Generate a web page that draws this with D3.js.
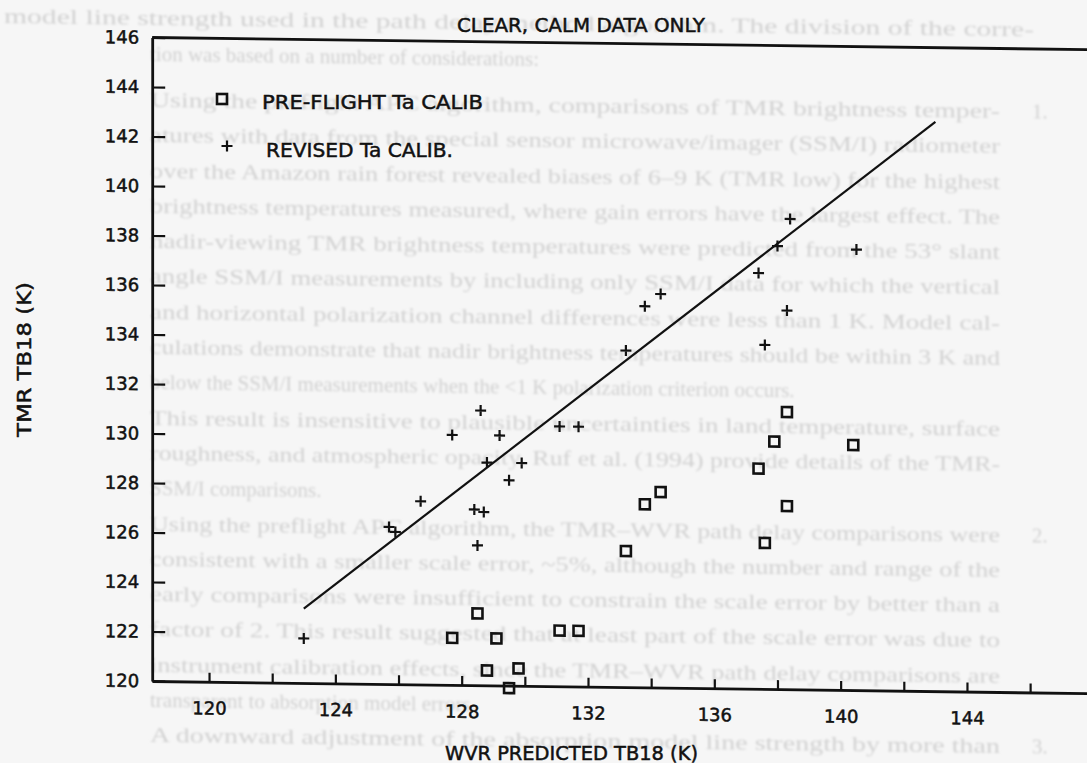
<!DOCTYPE html>
<html>
<head>
<meta charset="utf-8">
<script src="https://cdn.jsdelivr.net/npm/d3@7"></script>
<style>
  html, body { margin: 0; padding: 0; background: #f6f6f6; }
  svg { display: block; }
  .plot text { font-family: "DejaVu Sans", sans-serif; fill: #111; stroke: #111; stroke-width: 0.5; }
</style>
</head>
<body>
<script>
// chart values
const xTicks = [120, 122, 124, 126, 128, 130, 132, 134, 136, 138, 140, 142, 144, 146];
const yTicks = [120, 122, 124, 126, 128, 130, 132, 134, 136, 138, 140, 142, 144, 146];

// PRE-FLIGHT Ta CALIB (squares)
const preX = [128.5, 127.7, 129.1, 128.8, 129.8, 129.5, 131.1, 131.7, 138.3, 137.9, 140.4, 137.4, 134.3, 133.8, 138.3, 133.2, 137.6];
const preY = [122.9, 121.9, 121.9, 120.6, 120.7, 119.9, 122.25, 122.25, 131.2, 130.0, 129.9, 128.9, 127.9, 127.4, 127.4, 125.5, 125.9];

// REVISED Ta CALIB. (plus signs)
const revX = [123.0, 125.7, 125.9, 126.7, 127.7, 128.6, 128.4, 128.7, 128.5, 128.8, 129.2, 129.5, 129.9, 131.1, 131.7, 133.2, 133.8, 134.3, 137.4, 138.0, 138.4, 140.5, 138.3, 137.6];
const revY = [121.8, 126.35, 126.15, 127.4, 130.1, 131.1, 127.1, 127.0, 125.65, 129.0, 130.1, 128.3, 129.0, 130.5, 130.5, 133.6, 135.4, 135.9, 136.8, 137.9, 139.0, 137.8, 135.3, 133.9];

// 1:1 line
const lineX = [123, 143];
const lineY = [123, 143];

const title = "CLEAR, CALM DATA ONLY";
const xTitle = "WVR PREDICTED TB18 (K)";
const yTitle = "TMR TB18 (K)";
const legendLabels = ["PRE-FLIGHT Ta CALIB", "REVISED Ta CALIB."];

// faint text showing through the scanned page
const bleedLines = [
    "model line strength used in the path delay method algorithm. The division of the corre-",
    "tion was based on a number of considerations:",
    "Using the preflight APC algorithm, comparisons of TMR brightness temper-",
    "atures with data from the special sensor microwave/imager (SSM/I) radiometer",
    "over the Amazon rain forest revealed biases of 6\u20139 K (TMR low) for the highest",
    "brightness temperatures measured, where gain errors have the largest effect. The",
    "nadir-viewing TMR brightness temperatures were predicted from the 53\u00b0 slant",
    "angle SSM/I measurements by including only SSM/I data for which the vertical",
    "and horizontal polarization channel differences were less than 1 K. Model cal-",
    "culations demonstrate that nadir brightness temperatures should be within 3 K and",
    "below the SSM/I measurements when the <1 K polarization criterion occurs.",
    "This result is insensitive to plausible uncertainties in land temperature, surface",
    "roughness, and atmospheric opacity. Ruf et al. (1994) provide details of the TMR-",
    "SSM/I comparisons.",
    "Using the preflight APC algorithm, the TMR\u2013WVR path delay comparisons were",
    "consistent with a smaller scale error, ~5%, although the number and range of the",
    "early comparisons were insufficient to constrain the scale error by better than a",
    "factor of 2. This result suggested that at least part of the scale error was due to",
    "instrument calibration effects, since the TMR\u2013WVR path delay comparisons are",
    "transparent to absorption model errors.",
    "A downward adjustment of the absorption model line strength by more than"
];
const bleedNumbers = [[2, "1."], [14, "2."], [20, "3."]];

const W = 1087, H = 763;
const skew = 0.013; // the scan slopes down to the right

const x = d3.scaleLinear().domain([118.2, 148.2]).range([152.2, 1099.6]);
const y = d3.scaleLinear().domain([120, 146]).range([681, 37.5]);

const svg = d3.select("body").append("svg")
    .attr("width", W)
    .attr("height", H);

const defs = svg.append("defs");
defs.append("filter").attr("id", "soft")
    .append("feGaussianBlur").attr("stdDeviation", 0.9);

svg.append("rect").attr("width", W).attr("height", H).attr("fill", "#f6f6f6");

const page = svg.append("g")
    .attr("transform", `matrix(1,${skew},0,1,0,${-skew * 152})`);

// bleed-through text
const bleed = page.append("g")
    .attr("font-family", "'Liberation Serif', serif")
    .attr("font-size", 21)
    .attr("fill", "#d2d2d2")
    .attr("filter", "url(#soft)");

const rowY = i => i < 2 ? 25 + i * 36 : 107 + (i - 2) * 35.3;

bleed.selectAll("text.row")
    .data(bleedLines)
    .join("text")
    .attr("class", "row")
    .attr("x", (d, i) => i === 0 ? 4 : 150)
    .attr("y", (d, i) => rowY(i))
    .each(function (d, i) {
        const short = d.endsWith(".") || d.endsWith(":");
        if (!short || i === 0) {
            d3.select(this)
                .attr("textLength", i === 0 ? 1030 : 850)
                .attr("lengthAdjust", "spacingAndGlyphs");
        }
    })
    .text(d => d);

bleed.selectAll("text.num")
    .data(bleedNumbers)
    .join("text")
    .attr("class", "num")
    .attr("x", 1032)
    .attr("y", d => rowY(d[0]))
    .text(d => d[1]);

// plot
const plot = page.append("g").attr("class", "plot");

const xAxis = d3.axisBottom(x)
    .tickValues(xTicks)
    .tickSizeInner(-9)
    .tickSizeOuter(0)
    .tickPadding(20)
    .tickFormat(d => d % 4 === 0 ? d : "");

const yAxis = d3.axisLeft(y)
    .tickValues(yTicks)
    .tickSizeInner(-13)
    .tickSizeOuter(0)
    .tickPadding(13);

const gx = plot.append("g")
    .attr("transform", `translate(0,${y(120)})`)
    .call(xAxis);

const gy = plot.append("g")
    .attr("transform", `translate(${x(118.2)},0)`)
    .call(yAxis);

[gx, gy].forEach(g => {
    g.select(".domain").attr("stroke", "#111").attr("stroke-width", 2.8);
    g.selectAll(".tick line").attr("stroke", "#111").attr("stroke-width", 2.2);
    g.selectAll(".tick text").attr("font-size", 18).attr("fill", "#111");
});

// top frame line
plot.append("line")
    .attr("x1", x(118.2)).attr("x2", x(148.2))
    .attr("y1", y(146)).attr("y2", y(146))
    .attr("stroke", "#111").attr("stroke-width", 2.8);

// 1:1 line
plot.append("path")
    .datum(lineX.map((v, i) => [v, lineY[i]]))
    .attr("d", d3.line().x(d => x(d[0])).y(d => y(d[1])))
    .attr("fill", "none")
    .attr("stroke", "#111")
    .attr("stroke-width", 2.2);

const sq = 10, arm = 5.5;

plot.append("g").selectAll("rect")
    .data(preX.map((v, i) => [v, preY[i]]))
    .join("rect")
    .attr("x", d => x(d[0]) - sq / 2)
    .attr("y", d => y(d[1]) - sq / 2)
    .attr("width", sq)
    .attr("height", sq)
    .attr("fill", "none")
    .attr("stroke", "#111")
    .attr("stroke-width", 2.6);

const plusPath = (cx, cy) => `M${cx - arm},${cy}H${cx + arm}M${cx},${cy - arm}V${cy + arm}`;

plot.append("g").selectAll("path")
    .data(revX.map((v, i) => [v, revY[i]]))
    .join("path")
    .attr("d", d => plusPath(x(d[0]), y(d[1])))
    .attr("stroke", "#111")
    .attr("stroke-width", 2.2);

// texts placed on the page
const labels = svg.append("g").attr("class", "plot");

labels.append("text")
    .attr("x", 457).attr("y", 31.5)
    .attr("font-size", 20)
    .attr("textLength", 248).attr("lengthAdjust", "spacingAndGlyphs")
    .text(title);

labels.append("text")
    .attr("x", 445).attr("y", 760)
    .attr("font-size", 19)
    .attr("textLength", 253).attr("lengthAdjust", "spacingAndGlyphs")
    .text(xTitle);

labels.append("text")
    .attr("transform", "translate(31,437) rotate(-90)")
    .attr("font-size", 19)
    .attr("textLength", 155).attr("lengthAdjust", "spacingAndGlyphs")
    .text(yTitle);

// legend
labels.append("rect")
    .attr("x", 222 - sq / 2).attr("y", 99 - sq / 2)
    .attr("width", sq).attr("height", sq)
    .attr("fill", "none").attr("stroke", "#111").attr("stroke-width", 2.6);
labels.append("path")
    .attr("d", plusPath(227, 146))
    .attr("stroke", "#111").attr("stroke-width", 2.2);

labels.append("text")
    .attr("x", 262).attr("y", 108.5)
    .attr("font-size", 20)
    .attr("textLength", 221).attr("lengthAdjust", "spacingAndGlyphs")
    .text(legendLabels[0]);
labels.append("text")
    .attr("x", 266).attr("y", 157)
    .attr("font-size", 20)
    .attr("textLength", 187).attr("lengthAdjust", "spacingAndGlyphs")
    .text(legendLabels[1]);
</script>
</body>
</html>
